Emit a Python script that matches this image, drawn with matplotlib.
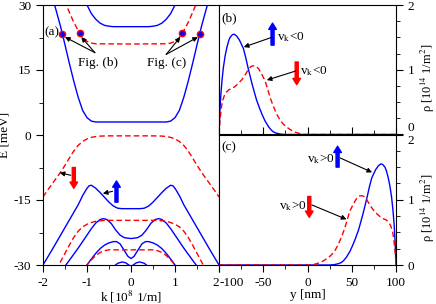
import numpy as np
import matplotlib
matplotlib.use("Agg")
import matplotlib.pyplot as plt
from matplotlib.ticker import MultipleLocator

plt.rcParams['font.family'] = ['Liberation Serif', 'DejaVu Serif']
plt.rcParams['mathtext.fontset'] = 'stix'
plt.rcParams['axes.unicode_minus'] = False
plt.rcParams['font.size'] = 9.5

BLUE = '#0000ff'
RED = '#ff0000'

# ---- panel (a): bands E(k), blue = spin up (solid), red = spin down (dashed)
k_b1 = [-1.05, -1.0, -0.9, -0.8, -0.7, -0.6, -0.5, -0.4, 0.0, 0.4, 0.5, 0.6, 0.7, 0.8, 0.9, 1.0, 1.05]
E_b1 = [31.5, 30.0, 28.0, 26.7, 25.8, 25.3, 25.1, 25.0, 25.0, 25.0, 25.1, 25.3, 25.8, 26.7, 28.0, 30.0, 31.5]

k_b2 = [-1.78, -1.7, -1.6, -1.5, -1.4, -1.3, -1.2, -1.1, -1.0, -0.9, -0.8, -0.6, 0.0,
        0.6, 0.8, 0.9, 1.0, 1.1, 1.2, 1.3, 1.4, 1.5, 1.6, 1.7, 1.78]
E_b2 = [31.5, 28.7, 25.0, 20.8, 16.5, 12.4, 8.7, 5.7, 4.0, 3.2, 3.0, 3.0, 3.0,
        3.0, 3.0, 3.2, 4.0, 5.7, 8.7, 12.4, 16.5, 20.8, 25.0, 28.7, 31.5]

k_r1 = [-1.52, -1.45, -1.4, -1.3, -1.2, -1.1, -1.0, -0.9, -0.8, 0.0, 0.8, 0.9, 1.0, 1.1, 1.2, 1.3, 1.4, 1.45, 1.52]
E_r1 = [31.0, 29.5, 28.3, 26.0, 24.1, 22.5, 21.6, 21.2, 21.05, 21.0, 21.05, 21.2, 21.6, 22.5, 24.1, 26.0, 28.3, 29.5, 31.0]

k_r2 = [-2.0, -1.9, -1.8, -1.7, -1.63, -1.5, -1.4, -1.3, -1.2, -1.1, -1.0, -0.9, -0.8, -0.7, -0.5, 0.0,
        0.5, 0.7, 0.8, 0.9, 1.0, 1.1, 1.2, 1.3, 1.4, 1.5, 1.63, 1.7, 1.8, 1.9, 2.0]
E_r2 = [-14.3, -12.8, -11.4, -10.0, -9.0, -7.0, -5.3, -3.7, -2.4, -1.5, -0.9, -0.55, -0.35, -0.25, -0.2, -0.2,
        -0.2, -0.25, -0.35, -0.55, -0.9, -1.5, -2.4, -3.7, -5.3, -7.0, -9.0, -10.0, -11.4, -12.8, -14.3]

k_b3 = [-2.0, -1.8, -1.6, -1.4, -1.2, -1.1, -1.0, -0.95, -0.9, -0.8, -0.7, -0.6, -0.5, -0.4, -0.3, -0.2, 0.0,
        0.2, 0.3, 0.4, 0.5, 0.6, 0.7, 0.8, 0.9, 0.95, 1.0, 1.1, 1.2, 1.4, 1.6, 1.8, 2.0]
E_b3 = [-30.0, -26.6, -23.1, -19.6, -16.1, -14.0, -12.3, -11.7, -11.6, -12.3, -13.3, -14.4, -15.5, -16.4, -16.9, -17.0, -17.0,
        -17.0, -16.9, -16.4, -15.5, -14.4, -13.3, -12.3, -11.6, -11.7, -12.3, -14.0, -16.1, -19.6, -23.1, -26.6, -30.0]

k_r3 = [-1.7, -1.64, -1.6, -1.5, -1.4, -1.3, -1.2, -1.1, -1.0, -0.9, -0.8, -0.7, -0.6, 0.0,
        0.6, 0.7, 0.8, 0.9, 1.0, 1.1, 1.2, 1.3, 1.4, 1.5, 1.6, 1.64, 1.7]
E_r3 = [-31.2, -30.0, -29.2, -27.3, -25.4, -23.6, -22.2, -21.2, -20.6, -20.2, -19.9, -19.8, -19.7, -19.7,
        -19.7, -19.8, -19.9, -20.2, -20.6, -21.2, -22.2, -23.6, -25.4, -27.3, -29.2, -30.0, -31.2]

k_b4 = [-1.52, -1.48, -1.4, -1.3, -1.2, -1.1, -1.0, -0.9, -0.8, -0.7, -0.63, -0.55, -0.45, -0.35, -0.25, -0.15, 0.0,
        0.15, 0.25, 0.35, 0.45, 0.55, 0.63, 0.7, 0.8, 0.9, 1.0, 1.1, 1.2, 1.3, 1.4, 1.48, 1.52]
E_b4 = [-30.6, -30.0, -28.9, -27.5, -26.1, -24.6, -23.1, -21.6, -20.3, -19.5, -19.3, -19.5, -20.4, -21.9, -23.1, -23.7, -23.9,
        -23.7, -23.1, -21.9, -20.4, -19.5, -19.3, -19.5, -20.3, -21.6, -23.1, -24.6, -26.1, -27.5, -28.9, -30.0, -30.6]

k_r4 = [-1.03, -1.0, -0.9, -0.8, -0.7, -0.6, -0.5, 0.0, 0.5, 0.6, 0.7, 0.8, 0.9, 1.0, 1.03]
E_r4 = [-30.5, -30.0, -28.8, -27.8, -27.1, -26.7, -26.5, -26.5, -26.5, -26.7, -27.1, -27.8, -28.8, -30.0, -30.5]

k_b5 = [-1.03, -1.0, -0.9, -0.8, -0.7, -0.6, -0.5, -0.4, -0.33, -0.25, -0.15, -0.07, 0.0,
        0.07, 0.15, 0.25, 0.33, 0.4, 0.5, 0.6, 0.7, 0.8, 0.9, 1.0, 1.03]
E_b5 = [-30.5, -30.0, -28.6, -27.3, -26.2, -25.4, -24.9, -24.6, -24.6, -25.1, -26.7, -28.0, -28.5,
        -28.0, -26.7, -25.1, -24.6, -24.6, -24.9, -25.4, -26.2, -27.3, -28.6, -30.0, -30.5]

k_b6 = [-0.4, -0.3, -0.2, -0.12, -0.05, 0.0, 0.05, 0.12, 0.2, 0.3, 0.4]
E_b6 = [-30.4, -29.6, -29.3, -29.5, -30.0, -30.3, -30.0, -29.5, -29.3, -29.6, -30.4]

blue_bands = [(k_b1, E_b1), (k_b2, E_b2), (k_b3, E_b3), (k_b4, E_b4), (k_b5, E_b5), (k_b6, E_b6)]
red_bands = [(k_r1, E_r1), (k_r2, E_r2), (k_r3, E_r3), (k_r4, E_r4)]

# states marked in (a)
mark_k = [-1.56, -1.16, 1.16, 1.56]
mark_E = [23.4, 23.5, 23.5, 23.4]

# tick values
k_ticks = [-2, -1, 0, 1, 2]
E_ticks = [-30, -15, 0, 15, 30]
y_ticks = [-100, -50, 0, 50, 100]
rho_ticks = [0, 1, 2]

# ---- panels (b), (c): densities rho(y)
yb_up = [-100, -99, -98, -96.5, -95, -93, -91, -89, -87.5, -85, -83, -80, -77, -74.5, -72.5, -70, -67, -63,
         -60, -57.5, -54, -51, -48, -44, -41, -38.5, -35, -30, -25, 100]
rb_up = [0.0, 0.35, 0.6, 0.85, 1.04, 1.22, 1.35, 1.45, 1.5, 1.54, 1.55, 1.52, 1.46, 1.39, 1.33, 1.2, 1.02, 0.8,
         0.65, 0.53, 0.4, 0.3, 0.21, 0.12, 0.07, 0.04, 0.02, 0.005, 0.0, 0.0]
yb_dn = [-100, -99, -97.5, -96, -94, -92, -89, -85.5, -82, -78, -74, -70.5, -67, -64, -62, -59, -55.5, -52,
         -48, -45, -42.5, -39, -35, -31, -28, -25, -20, -15, -10, -5, 100]
rb_dn = [0.0, 0.2, 0.4, 0.52, 0.6, 0.65, 0.69, 0.71, 0.74, 0.79, 0.85, 0.92, 1.0, 1.05, 1.06, 1.06, 1.02, 0.94,
         0.83, 0.7, 0.58, 0.45, 0.32, 0.22, 0.17, 0.13, 0.08, 0.04, 0.02, 0.0, 0.0]

yc_up = [-100, 25, 30, 35, 38.5, 41, 44, 48, 51, 54, 57.5, 60, 63, 67, 70, 72.5, 74.5, 77, 80, 83,
         85, 87.5, 89, 91, 93, 95, 96.5, 98, 99, 100]
rc_up = [0.0, 0.0, 0.005, 0.02, 0.04, 0.07, 0.12, 0.21, 0.3, 0.4, 0.53, 0.65, 0.8, 1.02, 1.2, 1.33, 1.39, 1.46, 1.52, 1.55,
         1.54, 1.5, 1.45, 1.35, 1.22, 1.04, 0.85, 0.6, 0.35, 0.0]
yc_dn = [-100, 5, 10, 15, 20, 25, 28, 31, 35, 39, 42.5, 45, 48, 52, 55.5, 59, 62, 64, 67, 70.5,
         74, 78, 82, 85.5, 89, 92, 94, 96, 97.5, 99, 100]
rc_dn = [0.0, 0.0, 0.02, 0.04, 0.08, 0.13, 0.17, 0.22, 0.32, 0.45, 0.58, 0.7, 0.83, 0.94, 1.02, 1.06, 1.06, 1.05, 1.0, 0.92,
         0.85, 0.79, 0.74, 0.71, 0.69, 0.65, 0.6, 0.52, 0.4, 0.2, 0.0]

fig = plt.figure(figsize=(4.36, 3.04), dpi=100)
W, H = 436.0, 304.0
axa = fig.add_axes([43 / W, 1 - 265 / H, 176 / W, 260 / H])
axb = fig.add_axes([219 / W, 1 - 134.5 / H, 177 / W, 129.5 / H])
axc = fig.add_axes([219 / W, 1 - 265 / H, 177 / W, 130.5 / H])

for k, E in blue_bands:
    axa.plot(k, E, color=BLUE, lw=1.0)
for k, E in red_bands:
    axa.plot(k, E, color=RED, lw=1.0, dashes=(4, 2.2))
axa.plot(mark_k, mark_E, 'o', ls='none', ms=4.5, mfc=BLUE, mec=RED, mew=1.0, zorder=5)

axa.set_xlim(-2, 2)
axa.set_ylim(-30, 30)
axa.set_xticks(k_ticks)
axa.set_yticks(E_ticks)
axa.xaxis.set_minor_locator(MultipleLocator(0.5))
axa.yaxis.set_minor_locator(MultipleLocator(7.5))
axa.tick_params(which='both', direction='out', top=False, right=False)
axa.tick_params(which='major', length=5)
axa.tick_params(which='minor', length=3)
axa.set_xlabel('k [10$^8$ 1/m]', labelpad=0)
axa.set_ylabel('E [meV]', labelpad=2)

arw = dict(arrowstyle='-|>', color='black', lw=0.8, mutation_scale=7, shrinkA=0, shrinkB=0)
axa.text(-1.79, 23.7, '(a)', ha='center', va='center', zorder=6)
axa.text(-0.75, 16.6, 'Fig. (b)', ha='center', va='center')
axa.text(0.8, 16.6, 'Fig. (c)', ha='center', va='center')
axa.annotate('', xy=(-1.5, 22.6), xytext=(-0.82, 19.0), arrowprops=arw)
axa.annotate('', xy=(-1.13, 22.6), xytext=(-0.82, 19.0), arrowprops=arw)
axa.annotate('', xy=(1.12, 22.6), xytext=(0.8, 18.6), arrowprops=arw)
axa.annotate('', xy=(1.52, 22.6), xytext=(0.8, 18.6), arrowprops=arw)
axa.annotate('', xy=(-1.62, -8.7), xytext=(-1.37, -9.3), arrowprops=arw)
axa.annotate('', xy=(-0.64, -13.5), xytext=(-0.42, -13.0), arrowprops=arw)

big = 'simple,head_length=0.45,head_width=0.55,tail_width=0.22'
axa.annotate('', xy=(-0.33, -10.6), xytext=(-0.33, -15.5),
             arrowprops=dict(arrowstyle=big, color=BLUE, mutation_scale=10, shrinkA=0, shrinkB=0))
axa.annotate('', xy=(-1.3, -12.3), xytext=(-1.3, -7.5),
             arrowprops=dict(arrowstyle=big, color=RED, mutation_scale=10, shrinkA=0, shrinkB=0))

for ax, yu, ru, yd, rd in [(axb, yb_up, rb_up, yb_dn, rb_dn), (axc, yc_up, rc_up, yc_dn, rc_dn)]:
    ax.plot(yu, ru, color=BLUE, lw=1.0)
    ax.plot(yd, rd, color=RED, lw=1.0, dashes=(4, 2.2))
    ax.set_xlim(-100, 100)
    ax.set_ylim(0, 2)
    ax.set_xticks(y_ticks)
    ax.set_yticks(rho_ticks)
    ax.xaxis.set_minor_locator(MultipleLocator(25))
    ax.yaxis.set_minor_locator(MultipleLocator(0.25))
    ax.yaxis.tick_right()
    ax.yaxis.set_label_position('right')
    ax.tick_params(which='both', direction='out', left=False, top=False, right=True)
    ax.tick_params(which='major', length=5)
    ax.tick_params(which='minor', length=3)
    ax.set_ylabel('ρ [10$^{14}$ 1/m$^2$]', fontsize=9)
    ax.yaxis.set_label_coords(1.13, 0.44)

axb.tick_params(axis='x', which='both', direction='in', labelbottom=False)
axc.set_xlabel('y [nm]', labelpad=0)

# keep the labels at the shared edges apart, as in the original
axb.get_yticklabels()[0].set_va('bottom')
axc.get_yticklabels()[-1].set_va('top')
axa.get_xticklabels()[-1].set_ha('right')
axc.get_xticklabels()[0].set_ha('left')

axb.text(-97, 1.8, '(b)', ha='left', va='center')
axc.text(-97, 1.8, '(c)', ha='left', va='center')

axb.annotate('', xy=(-39.5, 1.72), xytext=(-39.5, 1.38),
             arrowprops=dict(arrowstyle=big, color=BLUE, mutation_scale=10, shrinkA=0, shrinkB=0))
axb.text(-35, 1.5, 'v$_\\mathrm{k}$<0', ha='left', va='center')
axb.annotate('', xy=(-72, 1.35), xytext=(-40.5, 1.5), arrowprops=arw)
axb.annotate('', xy=(-12.2, 0.77), xytext=(-12.2, 1.12),
             arrowprops=dict(arrowstyle=big, color=RED, mutation_scale=10, shrinkA=0, shrinkB=0))
axb.text(-8, 0.98, 'v$_\\mathrm{k}$<0', ha='left', va='center')
axb.annotate('', xy=(-46, 0.84), xytext=(-13.5, 0.98), arrowprops=arw)

axc.annotate('', xy=(34, 1.82), xytext=(34, 1.5),
             arrowprops=dict(arrowstyle=big, color=BLUE, mutation_scale=10, shrinkA=0, shrinkB=0))
axc.text(31, 1.62, 'v$_\\mathrm{k}$>0', ha='right', va='center')
axc.annotate('', xy=(73, 1.42), xytext=(37, 1.64), arrowprops=arw)
axc.annotate('', xy=(2, 0.73), xytext=(2, 1.05),
             arrowprops=dict(arrowstyle=big, color=RED, mutation_scale=10, shrinkA=0, shrinkB=0))
axc.text(-1, 0.9, 'v$_\\mathrm{k}$>0', ha='right', va='center')
axc.annotate('', xy=(44, 0.7), xytext=(5, 0.92), arrowprops=arw)

fig.savefig('out.png', dpi=100)
